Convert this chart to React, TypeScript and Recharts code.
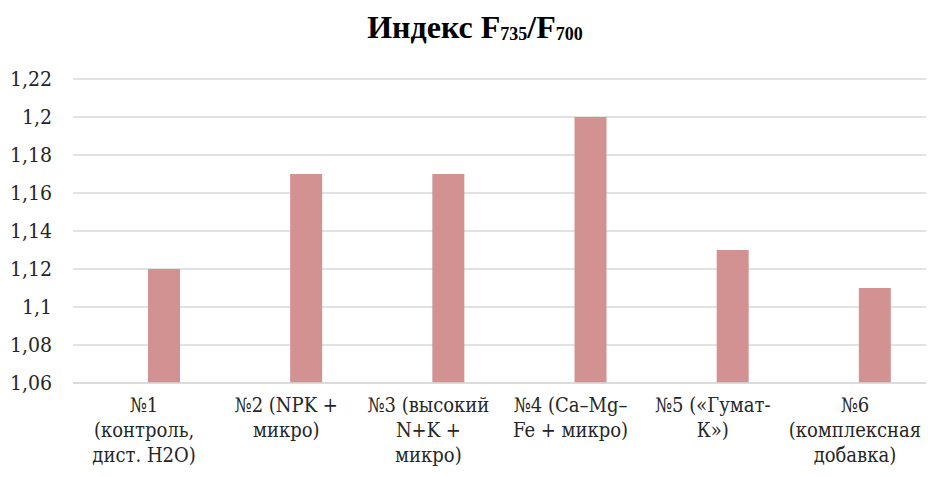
import { BarChart, Bar, XAxis, YAxis, CartesianGrid } from "recharts";

// category captions, "|" marks the line breaks under the axis
const categories = [
  "№1|(контроль,|дист. H2O)",
  "№2 (NPK +|микро)",
  "№3 (высокий|N+K +|микро)",
  "№4 (Ca–Mg–|Fe + микро)",
  "№5 («Гумат-|К»)",
  "№6|(комплексная|добавка)"
];
const indexValues = [1.12, 1.17, 1.17, 1.2, 1.13, 1.11];
const yTicks = [1.06, 1.08, 1.1, 1.12, 1.14, 1.16, 1.18, 1.2, 1.22];

const data = categories.map((name, i) => ({ name, value: indexValues[i] }));

const titleFont = "'Liberation Serif', 'Times New Roman', serif";
const tickFont = "'DejaVu Serif Condensed', 'DejaVu Serif', serif";

const CategoryTick = (props: any) => {
  const { x, y, payload } = props;
  const lines = String(payload.value).split("|");
  return (
    <text
      x={x}
      y={y}
      textAnchor="middle"
      fontFamily={tickFont}
      fontSize={20}
      fill="#262626"
    >
      {lines.map((line, i) => (
        <tspan key={i} x={x} y={y + 21 + i * 25}>
          {line}
        </tspan>
      ))}
    </text>
  );
};

export default function App() {
  return (
    <div
      style={{
        position: "fixed",
        left: 0,
        top: 0,
        width: 928,
        height: 477,
        background: "#fff",
        overflow: "hidden"
      }}
    >
      <div
        style={{
          position: "absolute",
          left: 0,
          top: 12,
          width: 950,
          textAlign: "center",
          fontFamily: titleFont,
          fontWeight: "bold",
          fontSize: 32,
          lineHeight: "30px",
          color: "#000"
        }}
      >
        Индекс F
        <span style={{ fontSize: 18, position: "relative", top: 2 }}>735</span>
        /F
        <span style={{ fontSize: 18, position: "relative", top: 2 }}>700</span>
      </div>
      <BarChart
        width={928}
        height={477}
        data={data}
        margin={{ top: 79, right: 2, left: 0, bottom: 0 }}
        barSize={32}
        barGap={8}
      >
        <CartesianGrid vertical={false} stroke="#d9d9d9" strokeWidth={1.5} />
        <XAxis
          dataKey="name"
          interval={0}
          height={94}
          tickLine={false}
          axisLine={{ stroke: "#d9d9d9", strokeWidth: 1.5 }}
          tick={<CategoryTick />}
        />
        <YAxis
          width={73}
          domain={[1.06, 1.22]}
          ticks={yTicks}
          interval={0}
          axisLine={false}
          tickLine={false}
          tickMargin={15}
          tickFormatter={(v: number) => String(+v.toFixed(2)).replace(".", ",")}
          tick={{ fontSize: 21, fill: "#262626", fontFamily: tickFont }}
        />
        {/* empty companion slot keeps the filled bar right of centre */}
        <Bar dataKey="spare" fill="none" isAnimationActive={false} />
        <Bar dataKey="value" fill="#d39292" isAnimationActive={false} />
      </BarChart>
    </div>
  );
}
